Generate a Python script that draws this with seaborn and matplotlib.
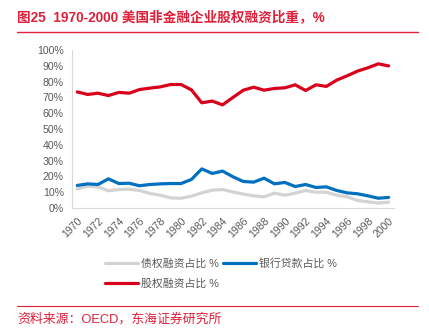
import matplotlib
matplotlib.use("Agg")
import matplotlib.pyplot as plt
from matplotlib.lines import Line2D
from matplotlib.ticker import FixedLocator, FuncFormatter
import numpy as np
import pandas as pd
import seaborn as sns

years = list(range(1970, 2001))
bond = [12.0, 13.7, 13.3, 10.8, 11.6, 11.8, 11.0, 9.1, 8.0, 6.3, 6.1, 7.4, 9.5, 11.2, 11.6,
        10.1, 8.7, 7.6, 7.0, 9.3, 8.0, 9.3, 11.0, 9.9, 9.9, 8.0, 7.0, 4.7, 3.8, 3.0, 3.6]
bank = [14.2, 15.2, 14.8, 18.4, 15.4, 15.6, 14.0, 14.8, 15.2, 15.4, 15.4, 18.0, 24.7, 21.8, 23.3,
        19.7, 16.7, 16.3, 18.8, 15.2, 16.1, 13.5, 14.8, 12.9, 13.3, 11.0, 9.5, 8.9, 7.6, 6.1, 6.6]
equity = [73.5, 71.9, 72.7, 71.2, 73.2, 72.7, 75.0, 75.9, 76.7, 78.2, 78.2, 74.8, 66.6, 67.7, 65.3,
          70.0, 74.6, 76.5, 74.6, 75.7, 76.1, 78.0, 74.4, 78.0, 77.0, 81.0, 83.7, 86.7, 88.8, 91.3, 90.0]
series_names = ["债权融资占比 %", "银行贷款占比 %", "股权融资占比 %"]
title_text = "图25  1970-2000 美国非金融企业股权融资比重，%"
source_text = "资料来源：OECD，东海证券研究所"

sns.set_style("white")
plt.rcParams["font.family"] = ["Liberation Sans", "Noto Sans CJK SC", "DejaVu Sans"]

df = pd.DataFrame({
    "year": years * 3,
    "value": bond + bank + equity,
    "series": [series_names[0]] * len(years) + [series_names[1]] * len(years) + [series_names[2]] * len(years),
})
palette = {series_names[0]: "#D3D3D3", series_names[1]: "#0070C0", series_names[2]: "#D9001B"}

fig = plt.figure(figsize=(4.29, 3.32), dpi=100)
ax = fig.add_axes([0.168, 0.374, 0.750, 0.475])
sns.lineplot(data=df, x="year", y="value", hue="series", palette=palette,
             linewidth=2.3, ax=ax, legend=False)

ax.set_xlim(1969.5, 2000.5)
ax.set_ylim(0, 100)
ax.set_xlabel("")
ax.set_ylabel("")
for s in ["top", "right"]:
    ax.spines[s].set_visible(False)
for s in ["left", "bottom"]:
    ax.spines[s].set_color("#D9D9D9")
    ax.spines[s].set_linewidth(0.8)

ax.yaxis.set_major_locator(FixedLocator(np.arange(0, 101, 10)))
ax.yaxis.set_major_formatter(FuncFormatter(lambda v, p: f"{int(v)}%"))
ax.tick_params(axis="y", length=0, labelsize=7.6, labelcolor="#595959", pad=6)

ax.set_xticks(years[::2])
ax.set_xticklabels([str(y) for y in years[::2]], rotation=45, ha="right",
                   rotation_mode="anchor", fontsize=7.6, color="#595959")
ax.tick_params(axis="x", which="major", length=0, pad=6)
ax.xaxis.set_minor_locator(FixedLocator(np.arange(1969.5, 2001, 1)))
ax.tick_params(axis="x", which="minor", length=3, color="#D9D9D9", width=0.8)

handles = [Line2D([], [], color=palette[n], linewidth=2.3) for n in series_names]
order = [0, 2, 1]
fig.legend([handles[i] for i in order], [series_names[i] for i in order],
           loc="upper left", bbox_to_anchor=(0.235, 0.235), ncol=2, frameon=False,
           fontsize=7.8, labelcolor="#595959", handlelength=3.0, handletextpad=0.3,
           columnspacing=0.4, labelspacing=0.9, borderaxespad=0)

fig.text(0.040, 0.948, title_text, color="#E0203A", fontsize=9.8, fontweight="bold",
         ha="left", va="center")
fig.add_artist(Line2D([0.040, 0.975], [0.903, 0.903], transform=fig.transFigure,
                      color="#E0203A", linewidth=1.0))
fig.add_artist(Line2D([0.040, 0.975], [0.078, 0.078], transform=fig.transFigure,
                      color="#E0203A", linewidth=0.8))
fig.text(0.040, 0.040, source_text, color="#E0203A", fontsize=9.3,
         ha="left", va="center")

fig.savefig("out.png", dpi=100)
